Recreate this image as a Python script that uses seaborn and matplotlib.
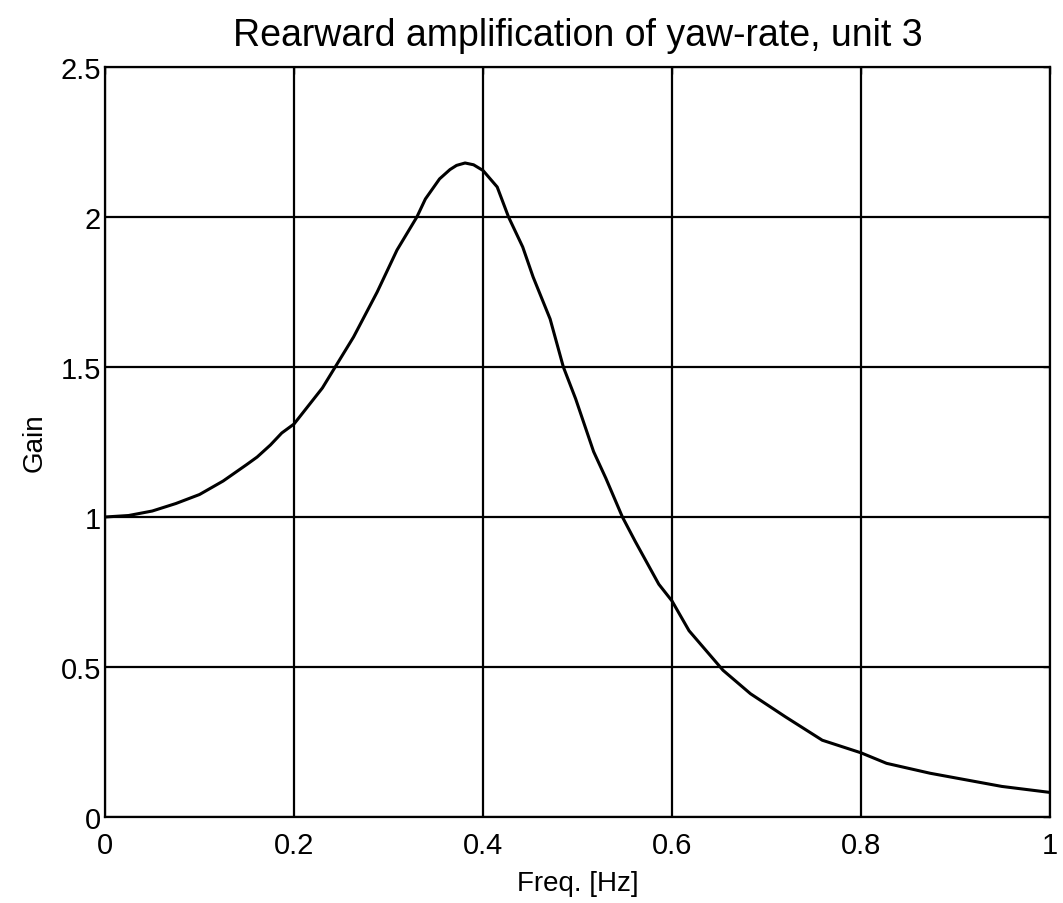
import pandas as pd
import seaborn as sns
import matplotlib.pyplot as plt

# 読み取った値 (周波数 [Hz], ゲイン)
freq = [0.0, 0.025, 0.05, 0.075, 0.1, 0.125, 0.15, 0.161, 0.175, 0.187, 0.2,
        0.23, 0.263, 0.288, 0.309, 0.33, 0.339, 0.354, 0.365, 0.372, 0.381,
        0.39, 0.4, 0.415, 0.427, 0.442, 0.453, 0.471, 0.485, 0.498, 0.517,
        0.53, 0.5475, 0.561, 0.586, 0.6, 0.618, 0.639, 0.654, 0.683, 0.72,
        0.759, 0.8, 0.827, 0.873, 0.911, 0.949, 1.0]
gain = [1.0, 1.005, 1.02, 1.045, 1.075, 1.12, 1.175, 1.20, 1.24, 1.28, 1.31,
        1.43, 1.60, 1.75, 1.89, 2.0, 2.06, 2.127, 2.158, 2.172, 2.18,
        2.174, 2.155, 2.10, 2.0, 1.90, 1.80, 1.66, 1.5, 1.394, 1.218,
        1.129, 1.0, 0.919, 0.776, 0.72, 0.621, 0.544, 0.489, 0.411, 0.334,
        0.256, 0.214, 0.179, 0.146, 0.124, 0.102, 0.082]

x_ticks = [0, 0.2, 0.4, 0.6, 0.8, 1]
x_labels = ["0", "0.2", "0.4", "0.6", "0.8", "1"]
y_ticks = [0, 0.5, 1, 1.5, 2, 2.5]
y_labels = ["0", "0.5", "1", "1.5", "2", "2.5"]

df = pd.DataFrame({"freq": freq, "gain": gain})

sns.set_style("white")
plt.rcParams["font.family"] = ["Liberation Sans", "DejaVu Sans"]
plt.rcParams["text.color"] = "black"
plt.rcParams["axes.labelcolor"] = "black"

fig = plt.figure(figsize=(10.63, 9.04), dpi=100)
ax = fig.add_axes([0.0988, 0.0951, 0.889, 0.8297])

ax = sns.lineplot(x="freq", y="gain", data=df, color="black", linewidth=2.2, ax=ax)

ax.set_xlim(0, 1)
ax.set_ylim(0, 2.5)
ax.set_xticks(x_ticks)
ax.set_xticklabels(x_labels)
ax.set_yticks(y_ticks)
ax.set_yticklabels(y_labels)
ax.grid(True, color="black", linewidth=1.6, linestyle="-")
ax.set_axisbelow(True)
for s in ax.spines.values():
    s.set_color("black")
    s.set_linewidth(1.6)
ax.tick_params(direction="in", length=5, width=1, labelsize=21,
               top=True, right=True, colors="black")
ax.tick_params(axis="x", pad=10)
ax.tick_params(axis="y", pad=3)

ax.set_title("Rearward amplification of yaw-rate, unit 3", fontsize=27, pad=16)
ax.set_xlabel("Freq. [Hz]", fontsize=20, labelpad=8)
ax.set_ylabel("Gain", fontsize=20, labelpad=9)

plt.savefig("out.png", dpi=100)
